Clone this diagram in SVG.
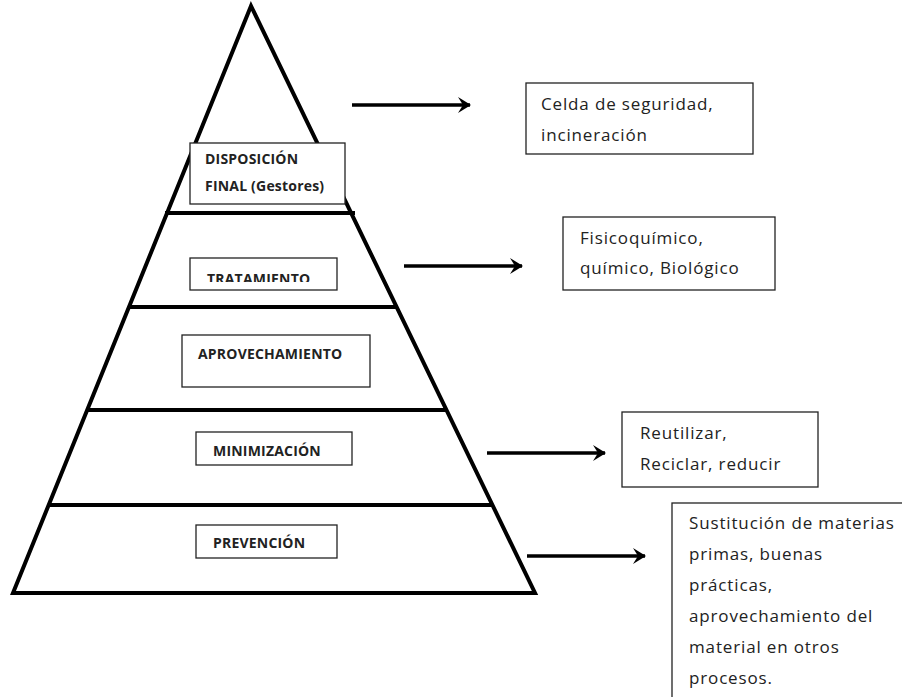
<svg xmlns="http://www.w3.org/2000/svg" width="902" height="697" viewBox="0 0 902 697">
<style>
.pyr{fill:none;stroke:#000;stroke-width:4;stroke-linejoin:miter}
.lvl{stroke:#000;stroke-width:4}
.lbox{fill:#fff;stroke:#222;stroke-width:1.3}
.rbox{fill:#fff;stroke:#222;stroke-width:1.3}
.lab{font-family:"Open Sans","Liberation Sans",sans-serif;font-weight:bold;font-size:14px;letter-spacing:0.2px;fill:#222}
.txt{font-family:"Open Sans","Liberation Sans",sans-serif;font-size:17px;letter-spacing:0.85px;fill:#222}
.arr{stroke:#000;stroke-width:3.5;marker-end:url(#ah)}
</style>
<defs>
<marker id="ah" viewBox="0 0 20 20" refX="16" refY="10" markerWidth="20" markerHeight="20" markerUnits="userSpaceOnUse" orient="auto">
<path d="M4,2 L17,10 L4,18 L9,10 Z" fill="#000"/>
</marker>
<clipPath id="clipT"><rect x="190" y="258" width="147" height="24"/></clipPath>
</defs>
<g id="pyramid">
<polygon class="pyr" points="251,6 13,593 535,593"/>
<line class="lvl" x1="165" y1="213" x2="355" y2="213"/>
<line class="lvl" x1="130" y1="307" x2="398" y2="307"/>
<line class="lvl" x1="88" y1="410" x2="447" y2="410"/>
<line class="lvl" x1="48" y1="505" x2="492" y2="505"/>
</g>
<g id="connectors">
<line class="arr" x1="352" y1="105" x2="470" y2="105"/>
<line class="arr" x1="404" y1="266" x2="522" y2="266"/>
<line class="arr" x1="487" y1="453" x2="605" y2="453"/>
<line class="arr" x1="527" y1="556" x2="645" y2="556"/>
</g>
<g id="disposicion">
<rect class="lbox" x="190" y="143" width="155" height="61"/>
<text class="lab" x="205" y="164">DISPOSICIÓN</text>
<text class="lab" x="205" y="191">FINAL (Gestores)</text>
</g>
<g id="tratamiento">
<rect class="lbox" x="190" y="258" width="147" height="32"/>
<text class="lab" x="207" y="284" clip-path="url(#clipT)">TRATAMIENTO</text>
</g>
<g id="aprovechamiento">
<rect class="lbox" x="182" y="335" width="188" height="52"/>
<text class="lab" x="198" y="359">APROVECHAMIENTO</text>
</g>
<g id="minimizacion">
<rect class="lbox" x="196" y="432" width="156" height="33"/>
<text class="lab" x="213" y="456">MINIMIZACIÓN</text>
</g>
<g id="prevencion">
<rect class="lbox" x="196" y="525" width="141" height="33"/>
<text class="lab" x="213" y="548">PREVENCIÓN</text>
</g>
<g id="celda">
<rect class="rbox" x="526" y="83" width="227" height="71"/>
<text class="txt" x="541" y="110">Celda de seguridad,</text>
<text class="txt" x="541" y="141">incineración</text>
</g>
<g id="fisico">
<rect class="rbox" x="563" y="217" width="212" height="73"/>
<text class="txt" x="580" y="244">Fisicoquímico,</text>
<text class="txt" x="580" y="274">químico, Biológico</text>
</g>
<g id="reutilizar">
<rect class="rbox" x="622" y="412" width="196" height="75"/>
<text class="txt" x="640" y="439">Reutilizar,</text>
<text class="txt" x="640" y="470">Reciclar, reducir</text>
</g>
<g id="sustitucion">
<rect class="rbox" x="672" y="503" width="240" height="210"/>
<text class="txt" x="689" y="529">Sustitución de materias</text>
<text class="txt" x="689" y="560">primas, buenas</text>
<text class="txt" x="689" y="591">prácticas,</text>
<text class="txt" x="689" y="622">aprovechamiento del</text>
<text class="txt" x="689" y="653">material en otros</text>
<text class="txt" x="689" y="684">procesos.</text>
</g>
</svg>
